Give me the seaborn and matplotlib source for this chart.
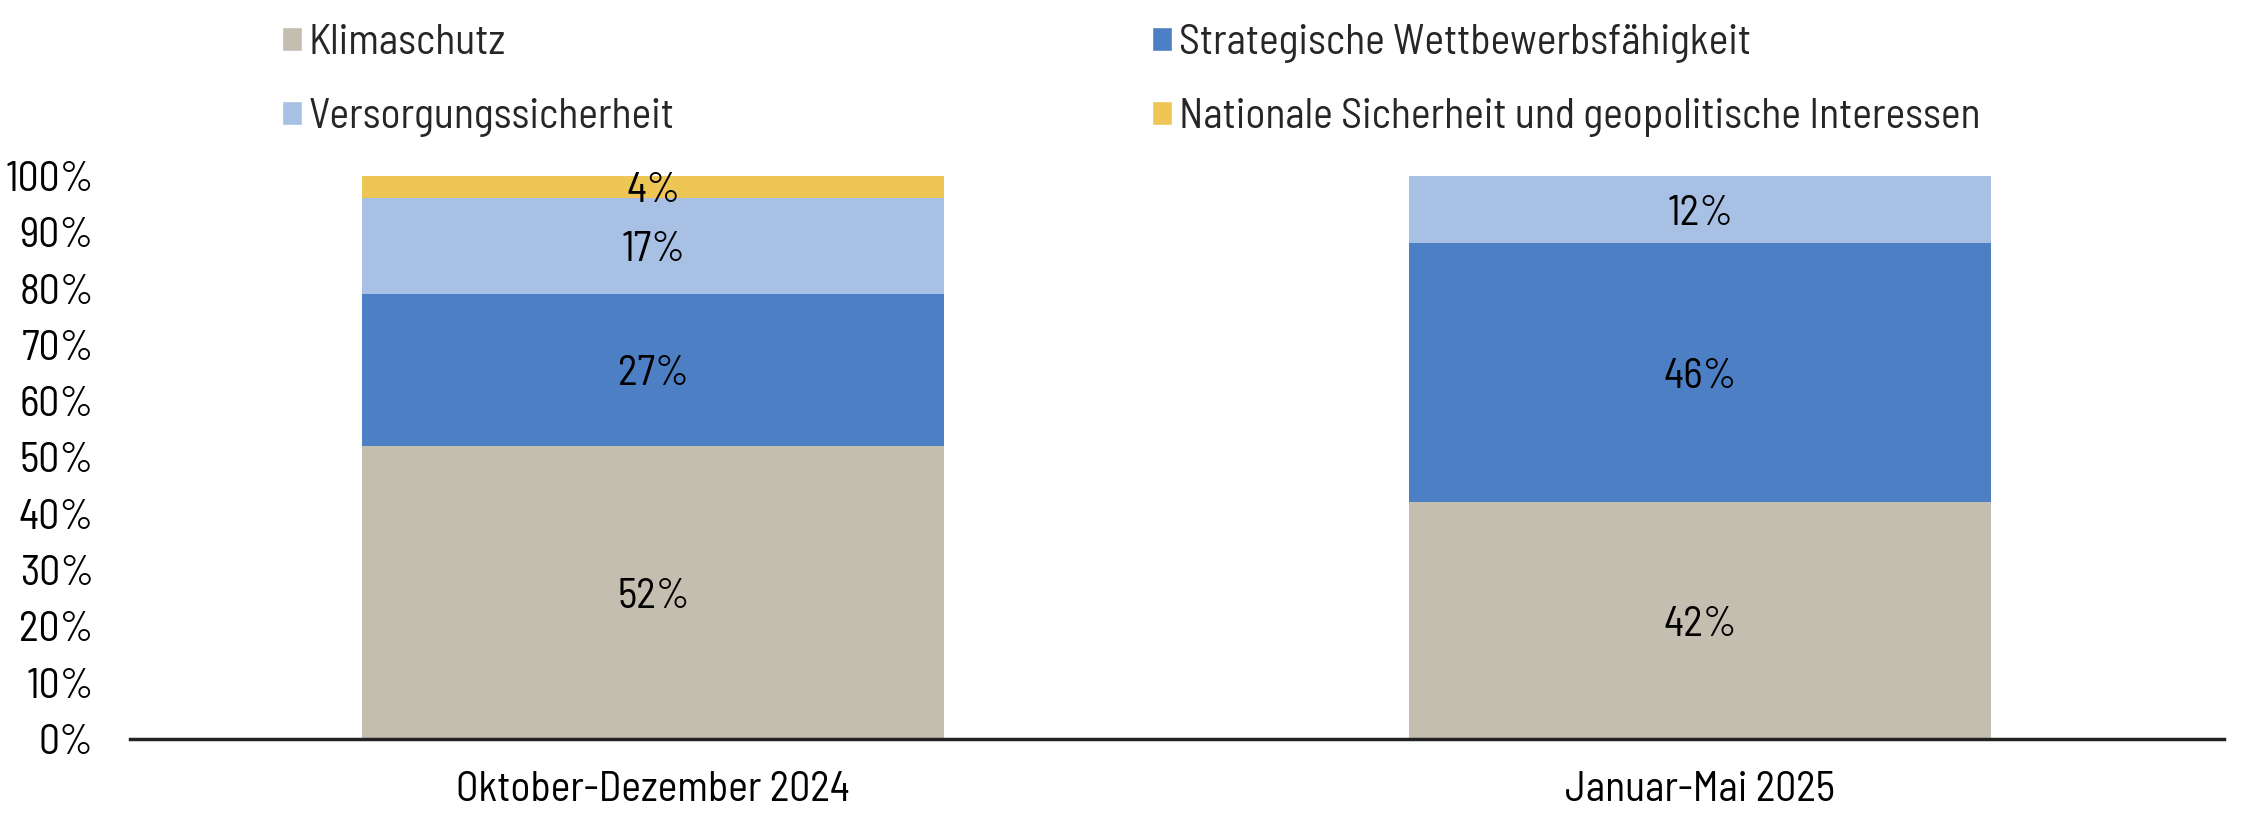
import matplotlib
matplotlib.use("Agg")
import matplotlib.pyplot as plt
import seaborn as sns
import numpy as np
import pandas as pd
from matplotlib.patches import Patch

# data
periods = ["Oktober-Dezember 2024", "Januar-Mai 2025"]
series = ["Klimaschutz", "Strategische Wettbewerbsfähigkeit",
          "Versorgungssicherheit", "Nationale Sicherheit und geopolitische Interessen"]
klimaschutz = [52, 42]
wettbewerb = [27, 46]
versorgung = [17, 12]
national = [4, 0]
colors = ["#C4BEB0", "#4D7FC4", "#A7C0E3", "#EEC655"]

sns.set_style("white")
plt.rcParams["font.family"] = ["Barlow Semi Condensed", "DejaVu Sans"]
FS = 30

values = np.array([klimaschutz, wettbewerb, versorgung, national], dtype=float)
cum = values.cumsum(axis=0)

fig = plt.figure(figsize=(22.6, 8.22), dpi=100)
ax = fig.add_axes([0.0575, 0.101, 0.9265, 0.685])

# draw tallest cumulative layer first so lower ones sit on top
for i in range(len(series) - 1, -1, -1):
    df = pd.DataFrame({"period": periods, "value": cum[i]})
    sns.barplot(data=df, x="period", y="value", color=colors[i], width=0.556,
                saturation=1, linewidth=0, ax=ax, zorder=2 + (len(series) - i))

for j in range(len(periods)):
    for i in range(len(series)):
        v = values[i, j]
        if v <= 0:
            continue
        ax.text(j, cum[i, j] - v / 2, f"{int(v)}%", ha="center", va="center_baseline",
                fontsize=FS, color="black", zorder=20)

ax.set_xlim(-0.5, 1.5)
ax.set_ylim(0, 100)
ax.set_yticks(range(0, 101, 10))
ax.set_yticklabels([f"{t}%" for t in range(0, 101, 10)])
ax.set_xlabel("")
ax.set_ylabel("")
ax.tick_params(axis="both", length=0, labelsize=FS, labelcolor="black")
ax.tick_params(axis="x", pad=23)
ax.tick_params(axis="y", pad=26)
for s in ["top", "right", "left"]:
    ax.spines[s].set_visible(False)
ax.spines["bottom"].set_color("#222222")
ax.spines["bottom"].set_linewidth(2.5)
ax.spines["bottom"].set_zorder(30)

handles = [Patch(facecolor=colors[i], label=series[i]) for i in [0, 2, 1, 3]]
leg = fig.legend(handles=handles, ncol=2, loc="upper left", bbox_to_anchor=(0.108, 1.017),
                 frameon=False, fontsize=FS, handlelength=0.5, handleheight=0.5,
                 handletextpad=0.15, columnspacing=11.45, labelspacing=0.85)

fig.savefig("out.png", dpi=100)
